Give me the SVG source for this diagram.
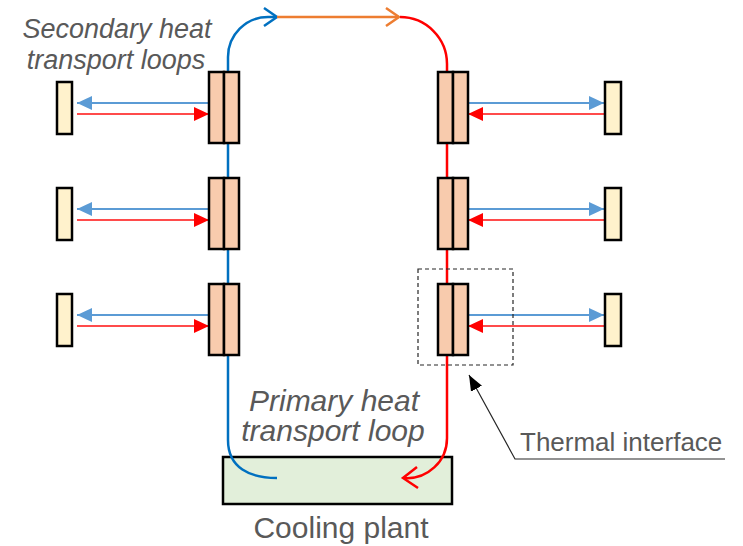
<svg xmlns="http://www.w3.org/2000/svg" width="743" height="546" viewBox="0 0 743 546">
<style>
.hx{fill:#F8CBAD;stroke:#000;stroke-width:2.5}
.su{fill:#FFF2CC;stroke:#000;stroke-width:2.5}
.sb{stroke:#5B9BD5;stroke-width:2;fill:none}
.sr{stroke:#FF4B4B;stroke-width:2;fill:none}
.lbl{font-family:"Liberation Sans",Arial,sans-serif;fill:#595959}
.it{font-style:italic}
</style>
<defs>
<marker id="ab" viewBox="0 0 10 10" refX="10" refY="5" markerWidth="7.5" markerHeight="7" markerUnits="strokeWidth" orient="auto" preserveAspectRatio="none"><path d="M0,0L10,5L0,10z" fill="#5B9BD5"/></marker>
<marker id="ar" viewBox="0 0 10 10" refX="10" refY="5" markerWidth="7.5" markerHeight="7" markerUnits="strokeWidth" orient="auto" preserveAspectRatio="none"><path d="M0,0L10,5L0,10z" fill="#FF0000"/></marker>
<marker id="ak" viewBox="0 0 10 10" refX="10" refY="5" markerWidth="13" markerHeight="13" markerUnits="strokeWidth" orient="auto"><path d="M0,1L10,5L0,9z" fill="#000"/></marker>
</defs>
<g id="cooling-plant">
<rect x="223" y="457" width="229" height="47" fill="#E2EFDA" stroke="#000" stroke-width="2.5"/>
<text class="lbl" x="341" y="538" font-size="30" text-anchor="middle">Cooling plant</text>
</g>
<g id="connectors">
<path d="M228,355V72V57A40,40 0 0 1 268,17H276" stroke="#0070C0" stroke-width="2.5" fill="none"/>
<path d="M264,8L277,17L264,26" stroke="#0070C0" stroke-width="2.5" fill="none"/>
<path d="M228,355V440C228,468 250,478 277,478" stroke="#0070C0" stroke-width="2.5" fill="none"/>
<path d="M277,17H399" stroke="#ED7D31" stroke-width="2.5" fill="none"/>
<path d="M386,8L399,17L386,26" stroke="#ED7D31" stroke-width="2.5" fill="none"/>
<path d="M400,17A47,47 0 0 1 447,64V438A40,40 0 0 1 404,478" stroke="#FF0000" stroke-width="2.5" fill="none"/>
<path d="M417,467L403,478L418,488" stroke="#FF0000" stroke-width="2.5" fill="none"/>
<line class="sb" x1="209" y1="103" x2="77" y2="103" marker-end="url(#ab)"/>
<line class="sr" x1="77" y1="114" x2="209" y2="114" marker-end="url(#ar)"/>
<line class="sb" x1="209" y1="209" x2="77" y2="209" marker-end="url(#ab)"/>
<line class="sr" x1="77" y1="220" x2="209" y2="220" marker-end="url(#ar)"/>
<line class="sb" x1="209" y1="315" x2="77" y2="315" marker-end="url(#ab)"/>
<line class="sr" x1="77" y1="326" x2="209" y2="326" marker-end="url(#ar)"/>
<line class="sb" x1="468" y1="103" x2="604" y2="103" marker-end="url(#ab)"/>
<line class="sr" x1="604" y1="114" x2="468" y2="114" marker-end="url(#ar)"/>
<line class="sb" x1="468" y1="209" x2="604" y2="209" marker-end="url(#ab)"/>
<line class="sr" x1="604" y1="220" x2="468" y2="220" marker-end="url(#ar)"/>
<line class="sb" x1="468" y1="315" x2="604" y2="315" marker-end="url(#ab)"/>
<line class="sr" x1="604" y1="326" x2="468" y2="326" marker-end="url(#ar)"/>
<path d="M725,459H515L469,375" stroke="#262626" stroke-width="1.2" fill="none" marker-end="url(#ak)"/>
</g>
<g id="hx-left-1"><rect class="hx" x="209" y="72" width="15" height="71"/><rect class="hx" x="224" y="72" width="15" height="71"/></g>
<g id="hx-left-2"><rect class="hx" x="209" y="178" width="15" height="71"/><rect class="hx" x="224" y="178" width="15" height="71"/></g>
<g id="hx-left-3"><rect class="hx" x="209" y="284" width="15" height="71"/><rect class="hx" x="224" y="284" width="15" height="71"/></g>
<g id="hx-right-1"><rect class="hx" x="438" y="72" width="15" height="71"/><rect class="hx" x="453" y="72" width="15" height="71"/></g>
<g id="hx-right-2"><rect class="hx" x="438" y="178" width="15" height="71"/><rect class="hx" x="453" y="178" width="15" height="71"/></g>
<g id="hx-right-3"><rect class="hx" x="438" y="284" width="15" height="71"/><rect class="hx" x="453" y="284" width="15" height="71"/></g>
<g id="su-left-1"><rect class="su" x="57" y="82" width="15" height="52"/></g>
<g id="su-left-2"><rect class="su" x="57" y="188" width="15" height="52"/></g>
<g id="su-left-3"><rect class="su" x="57" y="294" width="15" height="52"/></g>
<g id="su-right-1"><rect class="su" x="605" y="82" width="16" height="52"/></g>
<g id="su-right-2"><rect class="su" x="605" y="188" width="16" height="52"/></g>
<g id="su-right-3"><rect class="su" x="605" y="294" width="16" height="52"/></g>
<g id="thermal-interface">
<rect x="418" y="269" width="95" height="96" fill="none" stroke="#262626" stroke-width="1.2" stroke-dasharray="4,3"/>
<text class="lbl" x="520" y="451" font-size="26">Thermal interface</text>
</g>
<g id="labels">
<text class="lbl it" x="117" y="38" font-size="27" text-anchor="middle">Secondary heat</text>
<text class="lbl it" x="116" y="69" font-size="27" text-anchor="middle">transport loops</text>
<text class="lbl it" x="334" y="411" font-size="30" text-anchor="middle">Primary heat</text>
<text class="lbl it" x="333" y="441" font-size="30" text-anchor="middle">transport loop</text>
</g>
</svg>
